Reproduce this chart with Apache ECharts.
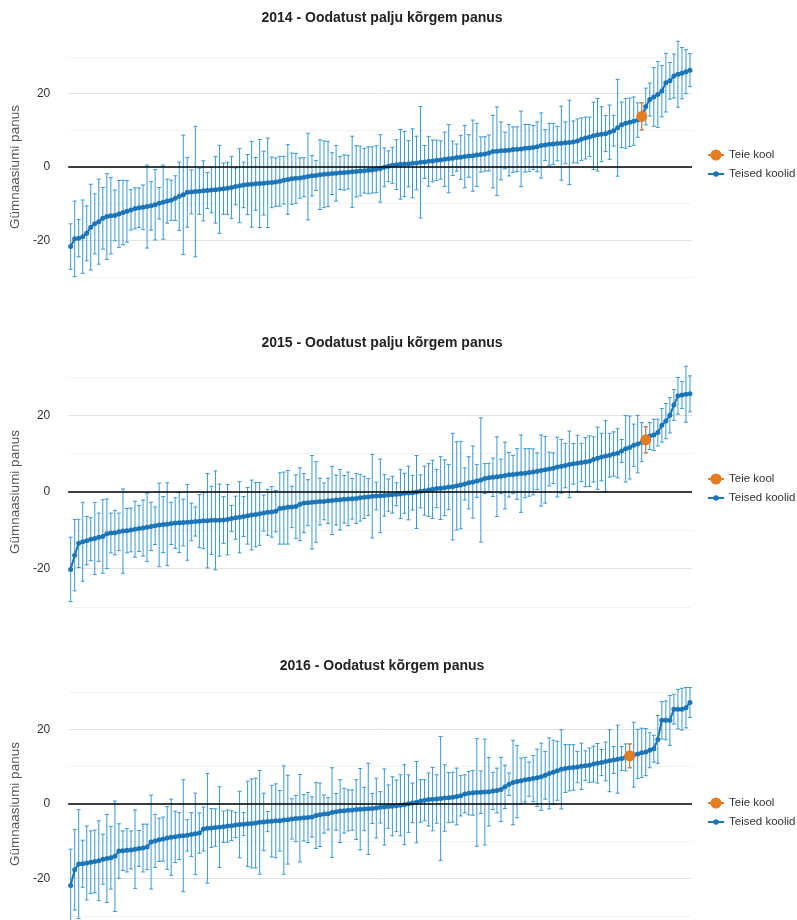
<!DOCTYPE html>
<html>
<head>
<meta charset="utf-8">
<script src="https://cdn.jsdelivr.net/npm/echarts@6/dist/echarts.min.js"></script>
<style>
  html, body { margin: 0; padding: 0; background: #fff; }
  #chart { width: 797px; height: 920px; }
</style>
</head>
<body>
<div id="chart"></div>
<script>
// panel titles
var titles = [
  '2014 - Oodatust palju kõrgem panus',
  '2015 - Oodatust palju kõrgem panus',
  '2016 - Oodatust kõrgem panus'
];
var yTicks = [-30, -20, -10, 0, 10, 20, 30];

// 2014: schools sorted by value, half width of interval
var values2014 = [-21.7,-19.6,-19.4,-19.0,-18.1,-16.4,-15.5,-14.9,-14.0,-13.5,
  -13.3,-13.2,-12.8,-12.4,-12.1,-11.7,-11.3,-11.1,-11.0,-10.8,
  -10.6,-10.3,-9.9,-9.6,-9.3,-9.1,-8.5,-8.0,-7.6,-6.9,
  -6.8,-6.7,-6.6,-6.5,-6.4,-6.3,-6.2,-6.1,-5.9,-5.8,
  -5.6,-5.3,-5.1,-4.9,-4.8,-4.7,-4.6,-4.5,-4.4,-4.3,
  -4.2,-4.1,-3.9,-3.6,-3.4,-3.2,-3.1,-3.0,-2.8,-2.6,
  -2.4,-2.3,-2.1,-2.0,-1.9,-1.8,-1.7,-1.6,-1.5,-1.4,
  -1.3,-1.2,-1.1,-1.0,-0.9,-0.8,-0.6,-0.4,-0.1,
  0.2,0.45,0.64,0.73,0.82,0.9,1.0,1.1,1.28,1.37,
  1.55,1.64,1.83,1.92,2.1,2.28,2.37,2.56,2.65,2.83,
  3.0,3.1,3.3,3.4,3.56,3.84,4.2,4.3,4.4,4.5,
  4.57,4.75,4.84,4.93,5.1,5.2,5.3,5.5,5.85,6.0,
  6.2,6.3,6.4,6.5,6.6,6.7,6.85,7.1,7.6,7.9,
  8.2,8.5,8.8,8.95,9.1,9.5,9.9,10.7,11.5,11.9,
  12.2,12.5,12.8,13.8,16.5,18.4,19.1,19.8,20.7,23.0,
  23.5,24.8,25.3,25.6,26.0,26.4];
var errors2014 = [6.2,10.3,5.1,10,7.5,11.7,8.2,11.6,8.4,11.7,
  10.4,6.9,9.1,8.8,8.4,5.5,5.6,5.4,6.1,11.3,
  6.6,9.6,4.3,10.1,6,5.5,6.1,9.3,16.3,9.5,
  6,17.8,6.3,8.2,4.9,6.2,9.1,12,7,7.1,
  8.5,5,10.1,6.2,8.2,11.7,7.2,12,8.7,12.2,
  6.9,6.6,6.8,6.5,9.5,7,6.8,5.5,5.3,11.8,
  5.5,4.1,9.5,9.1,8.9,5.7,7.6,4.5,4.8,4.6,
  9.7,7,6.8,6.1,6.4,6.3,6.4,9.2,5.3,
  4.2,4.9,6.8,9.5,8.9,6.3,9.4,7.3,15.2,4.5,
  6.8,5.7,5.5,5.2,7.4,9.3,4.7,3.7,6,8.5,
  5.8,9.7,8.6,4.8,4.7,4.9,9.9,12.1,7.9,5,
  7,6.2,6.1,10.3,6.5,6.4,6,6.8,8.9,4.2,
  5.7,5.6,4.7,10.1,5.7,11.5,5.7,6,5.8,5.7,
  5.4,9.2,9.9,7.5,4.9,7.4,4.2,13.2,6.2,6.8,
  6.6,6.6,4.7,3.7,5,4.5,8,9,7,8,
  5,6,9,7,6,4.5];

var values2015 = [-20.2,-16.5,-13.4,-13.0,-12.7,-12.3,-12.1,-11.8,-11.6,-10.9,
  -10.7,-10.6,-10.4,-10.2,-10.1,-9.9,-9.7,-9.5,-9.4,-9.2,
  -9.0,-8.8,-8.6,-8.5,-8.4,-8.2,-8.1,-8.0,-7.96,-7.9,
  -7.8,-7.7,-7.6,-7.5,-7.5,-7.4,-7.4,-7.35,-7.3,-7.2,
  -6.9,-6.7,-6.6,-6.4,-6.2,-6.0,-5.9,-5.7,-5.5,-5.3,
  -5.2,-5.0,-4.3,-4.2,-4.0,-3.9,-3.8,-3.2,-2.9,-2.8,
  -2.7,-2.6,-2.5,-2.45,-2.3,-2.2,-2.1,-2.0,-1.9,-1.8,
  -1.75,-1.7,-1.5,-1.4,-1.3,-1.1,-1.05,-1.0,-0.9,
  -0.8,-0.7,-0.6,-0.5,-0.35,-0.26,-0.17,0,0.17,0.35,
  0.5,0.7,0.9,1.0,1.1,1.3,1.4,1.6,1.8,2.1,
  2.4,2.6,2.9,3.15,3.5,3.7,3.85,4.0,4.1,4.3,
  4.5,4.55,4.7,4.8,4.9,5.1,5.25,5.4,5.6,5.8,
  6.0,6.2,6.5,6.7,6.9,7.2,7.35,7.5,7.7,7.8,
  8.05,8.5,8.8,9.1,9.4,9.6,9.9,10.1,10.7,11.3,
  11.6,12.2,12.5,13.0,13.6,14.6,14.9,15.5,17.4,18.5,
  20.0,22.7,25.1,25.3,25.5,25.6];
var errors2015 = [8.4,9.3,6.3,10.3,6.3,5.6,9.4,6.3,9.6,9.1,
  5.2,5.8,4.9,11.0,5.8,5.7,7.3,6.0,7.3,8.9,
  6.3,4.9,10.9,7.3,10.8,5.5,6.6,7.8,6.1,9.9,
  4.9,3.8,6.9,7.3,12.3,8.9,12.9,9.4,6.1,9.2,
  3.4,5.6,9.3,5.2,7.4,9.1,8.4,8.2,4.7,6.0,
  6.6,5.4,9.3,9.4,9.6,5.4,8.3,9.5,7.7,6.0,
  12.2,10.5,6.1,4.8,5.9,8.9,6.5,7.9,6.2,7.0,
  5.3,6.5,6.1,5.5,4.8,10.9,3.6,9.6,5.4,
  4.2,4.8,3.0,6.4,5.2,7.0,4.5,9.5,4.3,6.4,
  6.9,7.6,5.0,8.2,7.3,5.9,13.9,11.5,11.4,4.2,
  6.8,9.4,4.3,16.2,3.9,3.8,5.0,10.4,4.5,8.7,
  5.8,5.0,6.6,10.1,6.4,6.2,6.0,4.8,9.3,8.7,
  4.4,4.0,7.8,7.0,5.8,8.7,5.3,7.3,5.0,6.4,
  6.6,5.9,8.1,6.2,9.2,5.7,5.8,6.4,3.0,8.7,
  8.2,5.5,7.5,5.1,3.4,3.5,4.1,3.5,4.4,4.6,
  4.6,4.0,4.8,3.5,7.3,4.7];

var values2016 = [-21.8,-17.6,-16.1,-16.0,-15.8,-15.6,-15.4,-15.2,-14.8,-14.6,
  -14.4,-14.0,-12.6,-12.5,-12.4,-12.3,-12.1,-11.9,-11.8,-11.5,
  -10.2,-9.9,-9.6,-9.4,-9.1,-8.9,-8.8,-8.6,-8.5,-8.4,
  -8.2,-8.0,-7.8,-6.7,-6.5,-6.4,-6.3,-6.2,-6.1,-5.9,
  -5.8,-5.6,-5.5,-5.4,-5.3,-5.2,-5.1,-4.9,-4.8,-4.7,
  -4.6,-4.5,-4.5,-4.3,-4.2,-4.0,-3.9,-3.8,-3.7,-3.6,
  -3.5,-3.1,-2.9,-2.7,-2.6,-2.3,-2.1,-1.9,-1.8,-1.7,
  -1.6,-1.5,-1.4,-1.35,-1.3,-1.2,-1.1,-0.9,-0.8,
  -0.7,-0.6,-0.5,-0.35,-0.2,0.1,0.3,0.5,0.8,1.0,
  1.2,1.3,1.35,1.5,1.6,1.7,1.8,2.0,2.2,2.7,
  2.9,3.0,3.1,3.15,3.2,3.3,3.5,3.6,3.9,4.6,
  5.3,5.75,6.0,6.2,6.5,6.65,6.8,7.0,7.3,7.7,
  8.2,8.5,8.9,9.3,9.5,9.7,9.8,9.9,10.1,10.25,
  10.4,10.7,10.9,11.1,11.4,11.6,11.8,12.0,12.2,12.5,
  12.9,13.2,13.4,13.7,13.9,14.4,14.8,17.3,22.4,22.4,
  22.4,25.4,25.4,25.4,25.8,27.2];
var errors2016 = [9.7,10.8,14.6,6.3,9.9,8.4,8.4,10.7,6.7,11.8,
  8.4,14.8,7.3,5.3,5.8,5.1,10.5,4.8,6.4,6.1,
  12.6,7.1,5.8,5.9,8.4,10.2,6.9,6.3,15.0,4.2,
  5.9,10.9,5.4,5.9,14.7,5.2,5.0,10.8,4.2,4.3,
  4.0,3.4,8.9,3.1,11.4,11.9,12.0,13.9,7.7,2.7,
  9.6,9.9,8.1,14.5,11.9,5.4,6.2,11.7,6.2,6.7,
  5.4,8.8,8.5,5.1,4.3,12.0,4.9,8.4,6.0,5.5,
  5.4,8.0,10.9,5.8,12.2,4.0,8.0,4.2,10.2,
  5.8,7.9,6.9,8.2,10.7,7.7,5.3,10.9,5.7,5.5,
  7.1,8.5,6.5,16.6,8.9,6.7,6.7,7.6,5.4,5.1,
  5.8,6.0,14.4,5.7,14.2,9.2,5.0,6.0,8.6,5.8,
  3.0,11.3,9.7,6.1,6.0,4.6,6.2,7.7,9.0,6.4,
  9.5,8.6,7.9,10.6,6.4,6.2,6.1,4.2,6.2,4.0,
  4.6,4.8,5.3,3.5,5.2,8.3,3.6,9.1,3.2,3.6,
  3.2,8.7,6.6,6.6,6.3,4.7,3.6,6.4,5.0,5.2,
  6.7,4.0,5.3,5.6,5.4,4.0];

// position of "Teie kool" in each sorted list
var schoolIndex = [142, 143, 139];

var panels = [
  { values: values2014, errors: errors2014, top: 57, height: 220, titleTop: 6, legendTop: 144 },
  { values: values2015, errors: errors2015, top: 377, height: 230, titleTop: 331, legendTop: 468 },
  { values: values2016, errors: errors2016, top: 692, height: 224, titleTop: 654, legendTop: 792 }
];

var blue = '#1b75b6';
var barBlue = '#3b98d0';
var orange = '#e47c22';
var font = 'Liberation Sans, Arial, sans-serif';

function renderBar(params, api) {
  var lo = api.coord([api.value(0), api.value(1)]);
  var hi = api.coord([api.value(0), api.value(2)]);
  var w = 2;
  var style = { stroke: api.visual('color'), lineWidth: 1 };
  return {
    type: 'group',
    children: [
      { type: 'line', shape: { x1: lo[0], y1: lo[1], x2: hi[0], y2: hi[1] }, style: style },
      { type: 'line', shape: { x1: lo[0] - w, y1: lo[1], x2: lo[0] + w, y2: lo[1] }, style: style },
      { type: 'line', shape: { x1: hi[0] - w, y1: hi[1], x2: hi[0] + w, y2: hi[1] }, style: style }
    ]
  };
}

var option = {
  animation: false,
  backgroundColor: '#fff',
  title: [],
  legend: [],
  grid: [],
  xAxis: [],
  yAxis: [],
  series: []
};

panels.forEach(function (p, k) {
  var n = p.values.length;
  var si = schoolIndex[k];

  option.title.push({
    text: titles[k],
    left: 377,
    top: p.titleTop,
    textAlign: 'center',
    textStyle: { fontFamily: font, fontSize: 14, fontWeight: 'bold', color: '#222' }
  });

  // two legends so the orange dot can be bigger than the blue one
  option.legend.push({
    orient: 'vertical',
    left: 702,
    top: p.legendTop,
    itemWidth: 16,
    itemHeight: 14,
    data: ['Teie kool'],
    textStyle: { fontFamily: font, fontSize: 11.5, color: '#333' }
  });
  option.legend.push({
    orient: 'vertical',
    left: 702,
    top: p.legendTop + 19,
    itemWidth: 16,
    itemHeight: 7,
    data: ['Teised koolid'],
    textStyle: { fontFamily: font, fontSize: 11.5, color: '#333' }
  });

  option.grid.push({ left: 63, width: 629, top: p.top, height: p.height });

  option.xAxis.push({
    gridIndex: k,
    type: 'value',
    min: -0.6,
    max: n - 0.5,
    show: false
  });

  option.yAxis.push({
    gridIndex: k,
    type: 'value',
    min: yTicks[0],
    max: yTicks[yTicks.length - 1],
    interval: 10,
    name: 'Gümnaasiumi panus',
    nameLocation: 'middle',
    nameGap: 32,
    nameTextStyle: { fontFamily: font, fontSize: 13.5, color: '#555' },
    axisLine: { show: false },
    axisTick: { show: false },
    axisLabel: {
      margin: 18,
      fontFamily: font,
      fontSize: 12,
      color: '#333',
      formatter: function (v) { return v % 20 === 0 ? String(v) : ''; }
    },
    splitLine: { lineStyle: { color: ['#f3f3f3', '#e2e2e2'], width: 1 } }
  });

  var barData = p.values.map(function (v, i) { return [i, v - p.errors[i], v + p.errors[i]]; });
  var lineData = p.values.map(function (v, i) { return [i, v]; });
  var sv = p.values[si], se = p.errors[si];

  option.series.push({
    name: 'vahemik',
    type: 'custom',
    xAxisIndex: k,
    yAxisIndex: k,
    renderItem: renderBar,
    itemStyle: { color: barBlue },
    encode: { x: 0, y: [1, 2] },
    data: barData,
    z: 2
  });
  option.series.push({
    name: 'Teised koolid',
    type: 'line',
    xAxisIndex: k,
    yAxisIndex: k,
    data: lineData,
    symbol: 'circle',
    symbolSize: 5,
    showAllSymbol: true,
    itemStyle: { color: blue },
    lineStyle: { color: blue, width: 2 },
    markLine: {
      silent: true,
      symbol: 'none',
      label: { show: false },
      lineStyle: { color: '#000', width: 1.5, type: 'solid' },
      data: [{ yAxis: 0 }]
    },
    z: 3
  });
  option.series.push({
    name: 'vahemik oma',
    type: 'custom',
    xAxisIndex: k,
    yAxisIndex: k,
    renderItem: renderBar,
    itemStyle: { color: orange },
    encode: { x: 0, y: [1, 2] },
    data: [[si, sv - se, sv + se]],
    z: 4
  });
  option.series.push({
    name: 'Teie kool',
    type: 'line',
    xAxisIndex: k,
    yAxisIndex: k,
    data: [[si, sv]],
    symbol: 'circle',
    symbolSize: 11,
    itemStyle: { color: orange },
    lineStyle: { color: orange, width: 2 },
    z: 5
  });
});

var chart = echarts.init(document.getElementById('chart'));
chart.setOption(option);
</script>
</body>
</html>
